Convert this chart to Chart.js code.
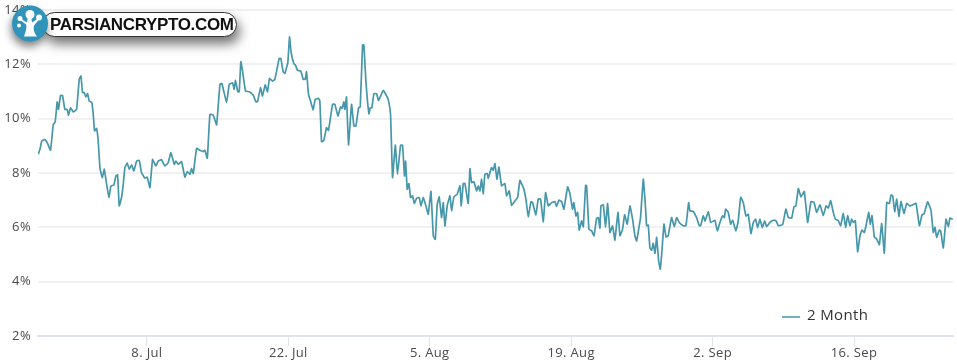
<!DOCTYPE html>
<html>

<head>
  <meta charset="utf-8">
  <script src="https://cdnjs.cloudflare.com/ajax/libs/Chart.js/4.4.1/chart.umd.min.js"></script>
  <style>
    html, body { margin: 0; padding: 0; background: #fff; }
    .chart-container { position: relative; width: 957px; height: 362px; overflow: hidden; }
    #myChart { filter: blur(0.35px); }
    .logo-pill { position: absolute; left: 42px; top: 12px; width: 195px; height: 25px; box-sizing: border-box;
      background: #fff; border: 1px solid #333; border-radius: 13px; box-shadow: 3px 7px 12px rgba(0,0,0,0.55);
      font: bold 17px "Liberation Sans", sans-serif; letter-spacing: -0.35px; line-height: 23px; color: #111; padding-left: 7px; white-space: nowrap; }
    .logo-icon { position: absolute; left: 12px; top: 5px; width: 36px; height: 37px; filter: drop-shadow(-1px 5px 4px rgba(0,0,0,0.5)); }
  </style>
</head>

<body>
  <div class="chart-container">
    <canvas id="myChart" width="957" height="362"></canvas>
    <div class="logo-pill">PARSIANCRYPTO.COM</div>
    <svg class="logo-icon" viewBox="0 0 36 36">
      <circle cx="18" cy="18" r="18" fill="#2f93ba"/>
      <path d="M12 31 C14 25 15 22 14 19 L9 15 L10 14 L15 17 L16 10 L19 10 L20 17 L26 13 L27 14 L22 20 C21 24 22 27 25 31 Z" fill="#fff"/>
      <circle cx="18" cy="9" r="4.5" fill="#fff"/>
      <circle cx="8" cy="13" r="2.5" fill="#fff"/>
      <circle cx="27" cy="12" r="3" fill="#fff"/>
      <circle cx="7" cy="20" r="2" fill="#fff"/>
    </svg>
  </div>
  <script type="text/javascript">
    // days counted from 1 Jul
    var days = [
      -3.76, -3.59, -3.40, -3.10, -2.87, -2.54, -2.27, -2.08, -1.88, -1.75, -1.55, -1.35, -1.12, -0.89, -0.76, -0.56, -0.29, 0.04, 0.30, 0.47,
      0.63, 0.80, 0.96, 1.13, 1.29, 1.55, 1.69, 1.82, 2.02, 2.18, 2.35, 2.58, 2.78, 3.01, 3.24, 3.44, 3.73, 3.93, 4.10, 4.26,
      4.49, 4.66, 4.82, 5.05, 5.25, 5.48, 5.71, 5.98, 6.24, 6.47, 6.80, 7.03, 7.30, 7.56, 7.89, 8.12, 8.45, 8.78, 9.11, 9.38,
      9.71, 9.87, 10.10, 10.43, 10.76, 10.99, 11.26, 11.42, 11.59, 11.92, 12.25, 12.58, 12.74, 12.98, 13.24, 13.57, 13.90, 14.23, 14.43, 14.89,
      15.15, 15.48, 15.64, 15.77, 16.00, 16.14, 16.30, 16.47, 16.76, 17.13, 17.52, 17.79, 17.95, 18.25, 18.44, 18.71, 18.94, 19.14, 19.44, 19.67,
      20.10, 20.26, 20.49, 20.66, 20.95, 21.12, 21.28, 21.55, 21.71, 21.91, 22.24, 22.47, 22.67, 22.80, 23.00, 23.20, 23.46, 23.66, 23.99, 24.12,
      24.29, 24.52, 24.78, 24.98, 25.38, 25.61, 25.91, 26.17, 26.33, 26.50, 26.60, 26.76, 26.96, 27.26, 27.49, 27.69, 27.96, 28.12, 28.35, 28.48,
      28.68, 28.98, 29.11, 29.27, 29.47, 29.74, 29.93, 30.40, 30.66, 30.89, 31.12, 31.32, 31.59, 31.81, 32.11, 32.31, 32.50, 32.61, 32.77, 32.94,
      33.10, 33.30, 33.47, 33.70, 33.96, 34.13, 34.36, 34.62, 34.85, 35.12, 35.35, 35.55, 35.74, 35.94, 36.17, 36.34, 36.50, 36.73, 37.00, 37.16,
      37.39, 37.72, 37.99, 38.12, 38.32, 38.48, 38.81, 38.98, 39.14, 39.37, 39.64, 39.80, 39.97, 40.13, 40.30, 40.46, 40.69, 40.79, 41.12, 41.29,
      41.45, 41.65, 41.85, 42.11, 42.44, 42.61, 42.87, 43.10, 43.43, 43.70, 43.93, 44.19, 44.32, 44.52, 44.75, 45.02, 45.18, 45.51, 45.74, 45.97,
      46.24, 46.47, 46.73, 47.06, 47.39, 47.56, 47.79, 48.05, 48.28, 48.65, 48.88, 49.14, 49.27, 49.47, 49.64, 49.80, 50.03, 50.20, 50.43, 50.53,
      50.76, 51.03, 51.26, 51.52, 51.69, 51.85, 51.95, 52.18, 52.41, 52.61, 52.84, 53.10, 53.33, 53.63, 53.83, 54.09, 54.29, 54.55, 54.82, 55.08,
      55.31, 55.48, 55.74, 55.87, 56.14, 56.34, 56.47, 56.63, 56.80, 56.97, 57.13, 57.30, 57.46, 57.66, 57.82, 57.99, 58.19, 58.39, 58.61, 58.94,
      59.21, 59.44, 59.70, 60.10, 60.36, 60.63, 60.76, 61.09, 61.42, 61.69, 61.82, 62.08, 62.25, 62.58, 62.81, 63.23, 63.47, 63.73, 63.99, 64.16,
      64.29, 64.55, 64.79, 64.99, 65.31, 65.54, 65.78, 66.04, 66.30, 66.53, 66.80, 67.03, 67.26, 67.46, 67.69, 67.92, 68.16, 68.35, 68.68, 69.01,
      69.28, 69.51, 69.93, 70.26, 70.50, 70.83, 71.06, 71.25, 71.49, 71.75, 72.08, 72.41, 72.74, 73.04, 73.30, 73.63, 73.96, 74.23, 74.46, 74.69,
      74.95, 75.18, 75.45, 75.68, 75.94, 76.17, 76.37, 76.60, 76.77, 76.93, 77.13, 77.36, 77.59, 77.79, 78.02, 78.19, 78.45, 78.61, 78.78, 79.01,
      79.24, 79.51, 79.74, 80.00, 80.24, 80.50, 80.66, 80.83, 81.03, 81.23, 81.45, 81.65, 81.95, 82.21, 82.54, 82.81, 83.14, 83.47, 83.73, 83.93,
      84.29, 84.62, 84.85, 85.02, 85.18, 85.45, 85.58, 85.84, 86.11, 86.34, 86.50, 86.77
    ];
    // percent, same order as days
    var rates = [
      8.69, 8.87, 9.18, 9.23, 9.12, 8.84, 9.79, 9.87, 10.62, 10.34, 10.85, 10.85, 10.34, 10.34, 10.13, 10.40, 10.25, 10.34, 11.45, 11.57,
      10.96, 10.96, 10.80, 10.92, 10.65, 10.59, 10.16, 9.55, 9.64, 9.18, 8.20, 7.83, 8.14, 7.59, 7.10, 7.52, 7.56, 7.89, 7.93, 6.79,
      7.10, 7.59, 8.20, 8.37, 8.14, 8.30, 8.08, 8.44, 8.47, 8.01, 7.81, 7.85, 7.46, 8.50, 8.26, 8.44, 8.49, 8.26, 8.38, 8.75,
      8.32, 8.44, 8.32, 8.42, 7.85, 8.05, 7.95, 8.17, 7.98, 8.91, 8.84, 8.79, 8.84, 8.54, 10.16, 10.13, 9.77, 11.26, 11.29, 10.59,
      11.26, 11.32, 11.08, 11.41, 10.99, 10.99, 12.10, 11.75, 11.02, 10.99, 10.87, 10.62, 10.62, 11.14, 10.83, 11.24, 10.99, 11.48, 11.38, 11.45,
      12.22, 12.22, 11.73, 11.67, 12.06, 13.01, 12.43, 12.02, 11.97, 11.78, 11.75, 11.45, 11.45, 11.73, 10.89, 10.65, 10.32, 10.71, 10.75, 10.65,
      9.15, 9.20, 9.67, 9.57, 10.53, 10.53, 10.10, 10.43, 10.38, 10.62, 10.34, 10.80, 9.03, 10.53, 9.73, 9.73, 10.40, 10.43, 12.71, 12.71,
      11.38, 10.18, 10.40, 10.40, 10.92, 10.92, 10.67, 11.04, 10.89, 10.71, 10.16, 7.83, 9.03, 7.95, 9.02, 9.02, 7.89, 8.44, 7.40, 7.61,
      7.10, 7.16, 6.88, 7.07, 7.10, 6.79, 7.10, 6.79, 6.48, 7.32, 5.69, 5.56, 6.85, 7.12, 6.36, 6.91, 6.05, 6.79, 7.16, 6.61,
      7.12, 7.22, 7.53, 6.79, 7.61, 7.62, 6.88, 8.16, 7.65, 7.68, 7.34, 7.53, 7.34, 7.77, 7.24, 7.95, 7.98, 7.81, 8.20, 8.10,
      8.35, 7.77, 8.22, 7.53, 7.61, 7.16, 7.34, 6.81, 6.97, 7.10, 7.73, 7.53, 7.40, 7.04, 6.39, 6.94, 6.91, 6.46, 7.04, 7.04,
      6.21, 7.28, 6.79, 6.91, 6.95, 6.77, 7.00, 6.95, 6.67, 7.49, 7.24, 6.67, 6.91, 6.42, 6.55, 5.90, 6.24, 6.02, 7.55, 7.53,
      5.93, 5.87, 5.69, 6.34, 6.36, 5.97, 6.79, 6.83, 6.02, 6.88, 5.81, 6.05, 5.53, 6.55, 5.69, 5.93, 6.46, 6.12, 6.79, 6.30,
      5.69, 5.50, 6.06, 6.36, 7.77, 6.85, 6.06, 6.08, 5.23, 5.16, 5.41, 5.04, 5.63, 4.77, 4.46, 5.14, 6.12, 5.65, 5.69, 6.36,
      6.02, 6.36, 6.18, 6.06, 6.06, 6.91, 6.61, 6.58, 6.36, 6.06, 6.06, 6.42, 6.24, 6.58, 6.18, 6.26, 5.87, 6.18, 6.42, 6.36,
      6.67, 6.55, 6.12, 6.26, 5.87, 6.24, 7.10, 6.91, 6.42, 6.48, 5.77, 6.18, 6.30, 5.99, 6.30, 5.99, 6.24, 6.02, 6.18, 6.26,
      6.24, 6.06, 6.10, 6.67, 6.36, 6.34, 6.76, 6.79, 7.43, 7.12, 7.32, 6.18, 6.95, 6.92, 6.55, 6.83, 6.43, 6.79, 6.71, 6.98,
      6.55, 6.30, 6.24, 6.06, 6.51, 6.00, 6.43, 6.06, 6.30, 6.18, 6.24, 5.10, 5.69, 5.90, 5.81, 6.06, 6.55, 6.12, 6.43, 5.65,
      5.57, 5.36, 6.14, 5.05, 6.92, 6.88, 7.19, 7.16, 6.58, 7.04, 6.40, 6.95, 6.51, 6.88, 6.79, 6.83, 6.88, 6.06, 6.46, 6.49,
      6.94, 6.63, 5.81, 6.00, 5.63, 5.90, 5.87, 5.24, 6.30, 6.02, 6.34, 6.30
    ];
    var tickDays = [7, 21, 35, 49, 63, 77];
    var tickLabels = ['8. Jul', '22. Jul', '5. Aug', '19. Aug', '2. Sep', '16. Sep'];
    var seriesName = '2 Month';
    var lineColor = '#4597a9';
    var textColor = '#4a4a4a';
    var fontFamily = '"Open Sans", sans-serif';

    // the legend sits inside the plot, bottom right, so draw it by hand
    var insideLegend = {
      id: 'insideLegend',
      beforeDraw: function(chart) {
        chart.ctx.letterSpacing = '0.35px';
      },
      afterDraw: function(chart) {
        var ctx = chart.ctx;
        var ds = chart.data.datasets[0];
        ctx.save();
        ctx.strokeStyle = ds.borderColor;
        ctx.lineWidth = 1.5;
        ctx.beginPath();
        ctx.moveTo(782, 317);
        ctx.lineTo(800, 317);
        ctx.stroke();
        ctx.fillStyle = '#333';
        ctx.font = '15px ' + fontFamily;
        ctx.textBaseline = 'middle';
        ctx.fillText(ds.label, 807, 316);
        ctx.restore();
      }
    };

    var ctx = document.getElementById('myChart').getContext('2d');
    var chart = new Chart(ctx, {
      type: 'line',
      data: {
        datasets: [{
          label: seriesName,
          data: days.map(function(d, i) { return { x: d, y: rates[i] }; }),
          borderColor: lineColor,
          borderWidth: 1.7,
          pointRadius: 0,
          tension: 0.1,
          fill: false
        }]
      },
      options: {
        responsive: false,
        animation: false,
        layout: { padding: { top: 10, right: 4, bottom: 0, left: 0 } },
        plugins: { legend: { display: false }, tooltip: { enabled: false } },
        scales: {
          x: {
            type: 'linear',
            min: -3.78,
            max: 86.8,
            afterBuildTicks: function(axis) {
              axis.ticks = tickDays.map(function(v) { return { value: v }; });
            },
            afterFit: function(axis) { axis.height = 26; },
            ticks: {
              autoSkip: false,
              maxRotation: 0,
              padding: -1,
              color: textColor,
              font: { family: fontFamily, size: 13 },
              callback: function(v) { return tickLabels[tickDays.indexOf(v)]; }
            },
            grid: { drawOnChartArea: false, drawTicks: true, tickLength: 10, tickColor: '#e0e2ea' },
            border: { color: '#dfe3ee', width: 2 }
          },
          y: {
            min: 2,
            max: 14,
            afterFit: function(axis) {
              axis.width = 38;
              axis.paddingTop = 0;
              axis.paddingBottom = 0;
            },
            ticks: {
              stepSize: 2,
              padding: 7,
              color: textColor,
              font: { family: fontFamily, size: 13 },
              callback: function(v) { return v + '%'; }
            },
            grid: { color: '#f1f1f5', lineWidth: 2, drawTicks: false },
            border: { display: false }
          }
        }
      },
      plugins: [insideLegend]
    });
  </script>
</body>

</html>
